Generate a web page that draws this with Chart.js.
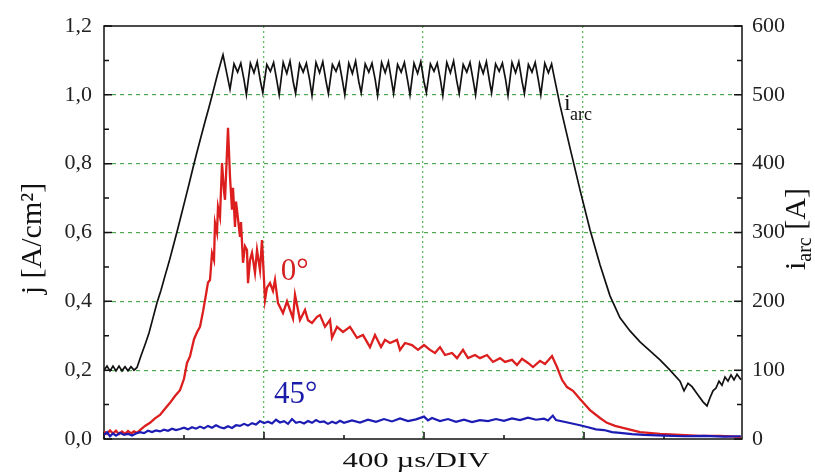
<!DOCTYPE html>
<html>
<head>
<meta charset="utf-8">
<script src="https://cdn.jsdelivr.net/npm/chart.js@4.4.1/dist/chart.umd.min.js"></script>
<style>
  html, body { margin: 0; padding: 0; background: #fff; }
  #plot { display: block; }
</style>
</head>
<body>
<canvas id="plot" width="815" height="473"></canvas>
<script>
// time axis in µs (400 µs per division)
// arc current i_arc [A], right axis
const arcTime = [
  0, 7.5, 15, 22.5, 30, 37.5, 45, 52.5, 60, 67.5, 75,
  82.5, 92.5, 102.5, 112.5, 122.5, 132.5, 142.5, 152.5, 162.5, 172.5, 182.5,
  192.5, 202.5, 212.5, 222.5, 232.5, 242.5, 252.5, 262.5, 272.5, 282.5, 292.5, 297.5,
  315, 325, 334, 342, 350,
  356, 366, 375, 383, 391,
  397, 407, 416, 424, 432,
  438, 448, 457, 465, 473,
  479, 489, 498, 506, 514,
  520, 530, 539, 547, 555,
  561, 571, 580, 588, 596,
  602, 612, 621, 629, 637,
  643, 653, 662, 670, 678,
  684, 694, 703, 711, 719,
  724, 734, 743, 751, 759,
  765, 775, 784, 792, 800,
  806, 816, 825, 833, 841,
  847, 857, 866, 874, 882,
  888, 898, 907, 915, 923,
  929, 939, 948, 956, 964,
  969, 979, 988, 996, 1004,
  1010, 1020, 1029, 1037, 1045,
  1051, 1061, 1070, 1078, 1086,
  1092, 1102, 1111, 1119, 1124,
  1140, 1165, 1190, 1215, 1240, 1265, 1290, 1315, 1340, 1365,
  1390, 1415, 1440, 1450, 1460, 1470, 1485, 1497.5, 1507.5, 1515,
  1522.5, 1530, 1537.5, 1545, 1552.5, 1560, 1567.5, 1575, 1582.5, 1592.5
];
const arcCurrent = [
  100, 106, 99, 106, 99, 106, 99, 105, 99, 105, 100,
  104, 121, 137, 154, 176, 198, 216, 237, 257, 279, 301,
  324, 347, 370, 394, 417, 439, 461, 482, 504, 527, 548, 558,
  508, 545, 533, 546, 522,
  500, 546, 532, 548, 520,
  503, 544, 534, 547, 521,
  500, 547, 531, 549, 519,
  502, 545, 533, 546, 522,
  499, 547, 532, 548, 520,
  502, 544, 534, 547, 521,
  500, 546, 531, 549, 519,
  503, 545, 533, 546, 522,
  499, 547, 532, 548, 520,
  502, 544, 533, 547, 521,
  500, 546, 531, 548, 519,
  503, 545, 534, 546, 522,
  499, 547, 532, 549, 520,
  502, 544, 533, 547, 521,
  500, 546, 531, 548, 519,
  503, 545, 534, 546, 522,
  499, 547, 532, 548, 520,
  502, 544, 533, 547, 521,
  500, 546, 532, 545, 530,
  485, 423, 362, 304, 253, 208, 176, 157, 141, 128,
  115, 100, 84, 70, 81, 76, 64, 54, 48, 60,
  70, 74, 84, 78, 90, 84, 93, 86, 94, 86
];

// current density j [A/cm²] at 0°
const red0Time = [
  0, 7.5, 15, 22.5, 30, 37.5, 45, 52.5, 60, 67.5, 75, 82.5, 90,
  102.5, 115, 127.5, 140, 152.5, 165, 177.5, 190,
  200, 207.5, 215, 225, 232.5, 240, 247.5, 255, 260, 265,
  270, 275, 277.5, 282.5, 285, 290, 295, 300, 302.5, 310,
  315, 320, 322.5, 327.5, 330, 332.5, 340, 342.5, 347.5, 352.5,
  357.5, 360, 365, 370, 377.5, 382.5, 390, 395, 402.5, 407.5,
  415, 422.5, 427.5, 435, 447.5, 457.5, 465, 472.5, 477.5, 490,
  502.5, 510, 520, 532.5, 540, 552.5, 565, 570, 582.5, 597.5,
  615, 632.5, 647.5, 665, 677.5, 692.5, 702.5, 715, 732.5, 740,
  752.5, 770, 785, 800, 815, 827.5, 840, 852.5, 870, 882.5,
  897.5, 910, 927.5, 940, 957.5, 972.5, 990, 1002.5, 1020, 1032.5,
  1045, 1060, 1072.5, 1090, 1102.5, 1120, 1132.5, 1145, 1157.5, 1172.5,
  1190, 1215, 1240, 1257.5, 1277.5, 1297.5, 1320, 1340, 1390, 1440,
  1490, 1540, 1592.5
];
const red0J = [
  0.022, 0.015, 0.025, 0.016, 0.024, 0.014, 0.022, 0.015, 0.023, 0.016, 0.022, 0.018, 0.026,
  0.038, 0.047, 0.060, 0.070, 0.088, 0.105, 0.125, 0.142,
  0.175, 0.221, 0.240, 0.290, 0.310, 0.326, 0.370, 0.420, 0.455, 0.462,
  0.540, 0.520, 0.628, 0.600, 0.674, 0.645, 0.802, 0.720, 0.695, 0.904,
  0.762, 0.666, 0.730, 0.616, 0.690, 0.666, 0.587, 0.630, 0.512, 0.560,
  0.549, 0.453, 0.520, 0.541, 0.483, 0.549, 0.491, 0.578, 0.404, 0.440,
  0.453, 0.430, 0.462, 0.395, 0.366, 0.400, 0.375, 0.350, 0.419, 0.346,
  0.375, 0.345, 0.337, 0.355, 0.360, 0.326, 0.346, 0.294, 0.326, 0.311,
  0.326, 0.294, 0.302, 0.267, 0.302, 0.267, 0.288, 0.279, 0.288, 0.259,
  0.279, 0.273, 0.259, 0.273, 0.259, 0.250, 0.267, 0.244, 0.250, 0.235,
  0.259, 0.235, 0.244, 0.235, 0.244, 0.224, 0.235, 0.224, 0.230, 0.215,
  0.233, 0.221, 0.209, 0.227, 0.218, 0.241, 0.209, 0.172, 0.151, 0.140,
  0.116, 0.084, 0.061, 0.047, 0.038, 0.032, 0.026, 0.020, 0.015, 0.012,
  0.009, 0.009, 0.006
];

// current density j [A/cm²] at 45°
const blue45Time = [
  0, 7.5, 15, 22.5, 30, 40, 50, 60, 70, 80,
  90, 100, 110, 120, 130, 140, 150, 160, 170, 180,
  190, 200, 210, 220, 230, 240, 250, 260, 270, 280,
  290, 300, 310, 320, 330, 340, 350, 360, 370, 380,
  390, 400, 410, 420, 430, 440, 450, 460, 470, 480,
  490, 500, 510, 520, 530, 540, 550, 560, 570, 580,
  590, 600, 620, 640, 660, 680, 700, 720, 740, 760,
  780, 800, 810, 820, 840, 860, 880, 900, 920, 940,
  960, 980, 1000, 1020, 1040, 1060, 1080, 1100, 1110, 1122,
  1130, 1150, 1170, 1190, 1210, 1230, 1250, 1270, 1290, 1320,
  1350, 1400, 1450, 1500, 1550, 1592
];
const blue45J = [
  0.012, 0.020, 0.008, 0.016, 0.010, 0.018, 0.012, 0.015, 0.010, 0.016,
  0.020, 0.017, 0.024, 0.020, 0.025, 0.022, 0.027, 0.024, 0.030, 0.026,
  0.029, 0.033, 0.028, 0.034, 0.030, 0.036, 0.031, 0.038, 0.033, 0.040,
  0.034, 0.031, 0.037, 0.032, 0.040, 0.038, 0.044, 0.039, 0.046, 0.042,
  0.052, 0.046, 0.050, 0.045, 0.056, 0.048, 0.052, 0.044, 0.058, 0.047,
  0.050, 0.045, 0.052, 0.047, 0.055, 0.049, 0.051, 0.044, 0.050, 0.046,
  0.053, 0.047, 0.054, 0.048, 0.056, 0.050, 0.058, 0.051, 0.060, 0.052,
  0.057, 0.065, 0.054, 0.061, 0.052, 0.058, 0.050, 0.056, 0.049, 0.055,
  0.052, 0.058, 0.053, 0.060, 0.055, 0.062, 0.056, 0.059, 0.054, 0.068,
  0.055, 0.050, 0.045, 0.040, 0.034, 0.028, 0.026, 0.020, 0.018, 0.014,
  0.012, 0.010, 0.008, 0.009, 0.007, 0.008
];

const SERIF = '"Liberation Serif", "Times New Roman", serif';
const hidden = 'rgba(0,0,0,0)';

function toPoints(xs, ys) {
  return xs.map((x, i) => ({ x: x, y: ys[i] }));
}

// inner ticks, frame and free text (titles with sub/superscripts, curve labels)
const framePlugin = {
  id: 'framePlugin',
  beforeDatasetsDraw(chart) {
    const { ctx, chartArea: a, scales } = chart;
    ctx.save();
    ctx.strokeStyle = '#111';
    ctx.lineWidth = 1.5;
    ctx.beginPath();
    for (let i = 0; i <= 12; i++) {
      const py = scales.y.getPixelForValue(i / 10);
      const len = i % 2 === 0 ? 8 : 5;
      ctx.moveTo(a.left, py); ctx.lineTo(a.left + len, py);
      ctx.moveTo(a.right, py); ctx.lineTo(a.right - len, py);
    }
    for (let t = 0; t <= 1595; t += 200) {
      const px = scales.x.getPixelForValue(t);
      const len = t % 400 === 0 ? 7 : 4;
      ctx.moveTo(px, a.bottom); ctx.lineTo(px, a.bottom - len);
    }
    ctx.stroke();
    ctx.strokeRect(a.left, a.top, a.right - a.left, a.bottom - a.top);
    ctx.restore();
  },
  afterDraw(chart) {
    const { ctx, chartArea: a, scales } = chart;
    ctx.save();
    ctx.textBaseline = 'alphabetic';

    // x title, stretched like the original scan
    ctx.save();
    ctx.fillStyle = '#111';
    ctx.font = '22px ' + SERIF;
    ctx.translate((a.left + a.right) / 2 - 7, 467);
    ctx.scale(1.4, 1);
    ctx.textAlign = 'center';
    ctx.fillText('400 µs/DIV', 0, 0);
    ctx.restore();

    // left title
    ctx.save();
    ctx.fillStyle = '#111';
    ctx.font = '30px ' + SERIF;
    ctx.translate(41, (a.top + a.bottom) / 2 + 6);
    ctx.rotate(-Math.PI / 2);
    ctx.textAlign = 'center';
    ctx.fillText('j [A/cm²]', 0, 0);
    ctx.restore();

    // right title i_arc [A]
    ctx.save();
    ctx.fillStyle = '#111';
    ctx.translate(805, 270);
    ctx.rotate(-Math.PI / 2);
    ctx.textAlign = 'left';
    ctx.font = '30px ' + SERIF;
    ctx.fillText('i', 0, 0);
    let w = ctx.measureText('i').width;
    ctx.font = '20px ' + SERIF;
    ctx.fillText('arc', w, 6);
    w += ctx.measureText('arc').width;
    ctx.font = '30px ' + SERIF;
    ctx.fillText(' [A]', w, 0);
    ctx.restore();

    // curve labels
    const ix = scales.x.getPixelForValue(1150);
    const iy = scales.y2.getPixelForValue(478);
    ctx.fillStyle = '#111';
    ctx.textAlign = 'left';
    ctx.font = '24px ' + SERIF;
    ctx.fillText('i', ix, iy);
    ctx.font = '18px ' + SERIF;
    ctx.fillText('arc', ix + 6, iy + 10);

    ctx.fillStyle = '#d42020';
    ctx.font = '31px ' + SERIF;
    ctx.fillText('0°', scales.x.getPixelForValue(442), scales.y.getPixelForValue(0.462));

    ctx.fillStyle = '#1c1caa';
    ctx.fillText('45°', scales.x.getPixelForValue(425), scales.y.getPixelForValue(0.105));
    ctx.restore();
  }
};

new Chart(document.getElementById('plot'), {
  type: 'line',
  data: {
    datasets: [
      {
        label: '45°',
        data: toPoints(blue45Time, blue45J),
        yAxisID: 'y',
        borderColor: '#1c1cb4',
        borderWidth: 2.2,
        pointRadius: 0,
        tension: 0
      },
      {
        label: '0°',
        data: toPoints(red0Time, red0J),
        yAxisID: 'y',
        borderColor: '#dc1e1e',
        borderWidth: 2.3,
        pointRadius: 0,
        tension: 0
      },
      {
        label: 'i_arc',
        data: toPoints(arcTime, arcCurrent),
        yAxisID: 'y2',
        borderColor: '#111',
        borderWidth: 1.7,
        pointRadius: 0,
        tension: 0
      }
    ]
  },
  options: {
    responsive: false,
    animation: false,
    layout: { padding: { top: 26, left: 0, right: 0, bottom: 0 } },
    plugins: {
      legend: { display: false },
      tooltip: { enabled: false }
    },
    scales: {
      x: {
        type: 'linear',
        position: 'bottom',
        min: 0,
        max: 1595,
        ticks: { display: false, stepSize: 400 },
        grid: {
          drawTicks: false,
          lineWidth: 1.3,
          color: (c) => {
            const v = c.tick ? c.tick.value : 0;
            return (v > 1 && v < 1590) ? 'rgba(90,185,90,0.95)' : hidden;
          }
        },
        border: { display: false, dash: [2, 3] },
        afterFit: (scale) => { scale.height = 34; }
      },
      y: {
        position: 'left',
        min: 0,
        max: 1.2,
        ticks: {
          stepSize: 0.2,
          padding: 12,
          color: '#222',
          font: { family: SERIF, size: 22 },
          callback: (v) => v.toFixed(1).replace('.', ',')
        },
        grid: {
          drawTicks: false,
          lineWidth: 1.2,
          color: (c) => (c.tick && c.tick.value > 0.01 && c.tick.value < 1.19)
            ? 'rgba(60,160,60,0.9)' : hidden
        },
        border: { display: false, dash: [4, 4] },
        afterFit: (scale) => { scale.width = 104; }
      },
      y2: {
        position: 'right',
        min: 0,
        max: 600,
        ticks: {
          stepSize: 100,
          padding: 10,
          color: '#222',
          font: { family: SERIF, size: 22 }
        },
        grid: { display: false, drawTicks: false },
        border: { display: false },
        afterFit: (scale) => { scale.width = 73; }
      }
    }
  },
  plugins: [framePlugin]
});
</script>
</body>
</html>
